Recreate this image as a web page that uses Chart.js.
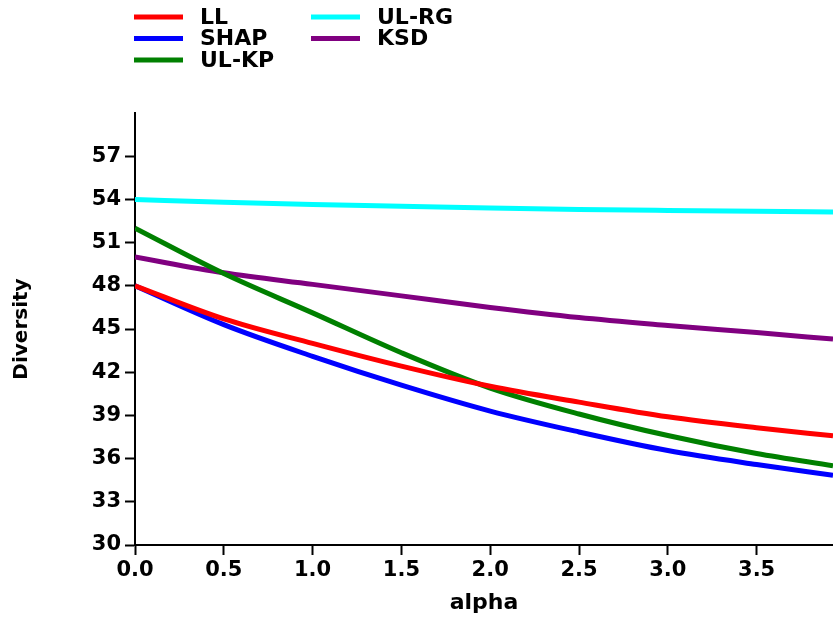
<!DOCTYPE html>
<html><head><meta charset="utf-8">
<script src="https://cdn.jsdelivr.net/npm/chart.js@4"></script>
<style>html,body{margin:0;padding:0;background:#fff}</style>
</head><body>
<canvas id="c" width="833" height="618"></canvas>
<script>
const alphaValues = [0, 0.5, 1.0, 1.5, 2.0, 2.5, 3.0, 3.5, 3.93];
const seriesLL   = [48.0, 45.7, 44.0, 42.42, 41.02, 39.92, 38.9, 38.14, 37.58];
const seriesSHAP = [48.0, 45.3, 43.1, 41.1, 39.3, 37.85, 36.56, 35.59, 34.85];
const seriesULKP = [52.0, 48.85, 46.12, 43.35, 40.9, 39.1, 37.6, 36.35, 35.5];
const seriesULRG = [54.0, 53.8, 53.65, 53.53, 53.4, 53.3, 53.23, 53.17, 53.13];
const seriesKSD  = [50.0, 48.9, 48.1, 47.3, 46.5, 45.8, 45.25, 44.75, 44.3];
const xTickValues = [0, 0.5, 1.0, 1.5, 2.0, 2.5, 3.0, 3.5];
const yTickValues = [30, 33, 36, 39, 42, 45, 48, 51, 54, 57];
const seriesNames = ['LL', 'SHAP', 'UL-KP', 'UL-RG', 'KSD'];
const seriesColors = ['#FF0000', '#0000FF', '#008000', '#00FFFF', '#800080'];

const allSeries = [seriesLL, seriesSHAP, seriesULKP, seriesULRG, seriesKSD];
const FONT = 'DejaVu Sans';

const datasets = allSeries.map((s, i) => ({
  label: seriesNames[i],
  data: s.map((v, j) => ({x: alphaValues[j], y: v})),
  borderColor: seriesColors[i],
  backgroundColor: seriesColors[i],
  borderWidth: 5,
  pointRadius: 0,
  fill: false,
  cubicInterpolationMode: 'monotone'
}));

const colLegend = {
  id: 'colLegend',
  afterDraw(chart) {
    const ctx = chart.ctx;
    ctx.save();
    ctx.font = 'bold 22px "' + FONT + '"';
    ctx.textBaseline = 'middle';
    ctx.textAlign = 'left';
    chart.data.datasets.forEach((d, i) => {
      const col = i < 3 ? 0 : 1;
      const row = i < 3 ? i : i - 3;
      const x0 = col ? 311 : 134;
      const y = 17 + row * 21.5;
      ctx.strokeStyle = d.borderColor;
      ctx.lineWidth = 5;
      ctx.beginPath();
      ctx.moveTo(x0, y);
      ctx.lineTo(x0 + 49, y);
      ctx.stroke();
      ctx.fillStyle = '#000';
      ctx.fillText(d.label, x0 + 66, y + 1);
    });
    ctx.restore();
  }
};

new Chart(document.getElementById('c'), {
  type: 'line',
  data: {datasets},
  plugins: [colLegend],
  options: {
    responsive: false,
    devicePixelRatio: 1,
    animation: false,
    layout: {padding: {top: 113, left: 0, right: 0, bottom: 0}},
    plugins: {legend: {display: false}, tooltip: {enabled: false}},
    scales: {
      x: {
        type: 'linear', min: 0, max: 3.93,
        afterBuildTicks: ax => { ax.ticks = xTickValues.map(v => ({value: v})); },
        afterFit: s => { s.height = 73; s.paddingLeft = 0; s.paddingRight = 0; },
        ticks: {callback: v => Number(v).toFixed(1), color: '#000', font: {family: FONT, size: 21, weight: 'bold'}, padding: 3, maxRotation: 0, autoSkip: false},
        grid: {drawOnChartArea: false, drawTicks: true, tickLength: 10, tickWidth: 2, tickColor: '#000'},
        border: {color: '#000', width: 2},
        title: {display: true, text: 'alpha', color: '#000', font: {family: FONT, size: 22, weight: 'bold'}, padding: {top: 0, bottom: 2}}
      },
      y: {
        type: 'linear', min: 30, max: 60,
        afterBuildTicks: ax => { ax.ticks = yTickValues.map(v => ({value: v})); },
        afterFit: s => { s.width = 135; s.paddingTop = 0; s.paddingBottom = 0; },
        ticks: {callback: v => String(v), color: '#000', font: {family: FONT, size: 21, weight: 'bold'}, padding: 4, autoSkip: false},
        grid: {drawOnChartArea: false, drawTicks: true, tickLength: 10, tickWidth: 2, tickColor: '#000'},
        border: {color: '#000', width: 2},
        title: {display: true, text: 'Diversity', color: '#000', font: {family: FONT, size: 20, weight: 'bold'}, padding: {top: 10, bottom: 0}}
      }
    }
  }
});
</script>
</body></html>
